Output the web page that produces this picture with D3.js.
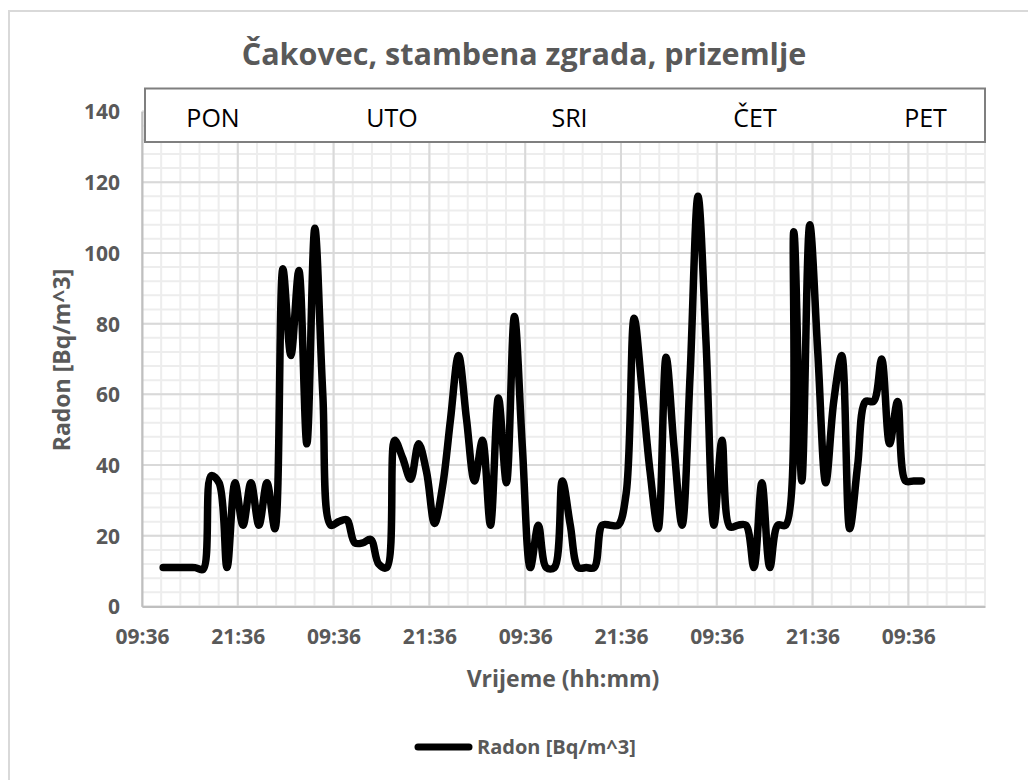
<!DOCTYPE html>
<meta charset="utf-8">
<script src="https://d3js.org/d3.v7.min.js"></script>
<style>
  body { margin: 0; background: #fff; }
  text { font-family: "Open Sans", sans-serif; }
</style>
<div id="chart"></div>
<script>
// hourly radon readings, first one at 12:15 (2.65 h after the 09:36 axis origin)
const firstHour = 2.65;
const radon = [
  11, 11, 11, 11, 11, 10.5, 37, 35, 11, 35, 23, 35, 23, 35, 22,
  95.5, 71, 95, 46, 107, 60, 23, 24, 24.5, 18, 18, 19, 12, 11,
  47, 42, 36, 46, 38, 23.5, 34, 53, 71, 53, 35.5, 47, 23, 59, 35, 82, 45,
  11, 23, 11, 11, 35.5, 23, 11, 11, 11, 23, 23, 23, 32,
  81.5, 61, 38, 22, 70.5, 45, 23, 65, 116, 75, 23, 47, 22.5, 23, 23,
  11, 35, 11, 23, 23, 106, 35.5, 108, 72, 35, 58, 71, 22, 40,
  58, 58, 70, 46, 58, 35.5, 35.5, 35.5
];
const xTickLabels = ["09:36", "21:36", "09:36", "21:36", "09:36", "21:36", "09:36", "21:36", "09:36"];
const yTicks = [0, 20, 40, 60, 80, 100, 120, 140];
const days = ["PON", "UTO", "SRI", "ČET", "PET"];

const data = radon.map((v, i) => ({ h: firstHour + i, v: v }));

const W = 1028, H = 780;
const plot = { left: 142, top: 111.5, right: 985, bottom: 606.5 };
const grey = "#595959";

const svg = d3.select("#chart").append("svg")
  .attr("width", W).attr("height", H);

// chart border (only left and top visible in the frame)
svg.append("path")
  .attr("d", `M9,${H} V11 H${W}`)
  .attr("fill", "none").attr("stroke", "#d9d9d9").attr("stroke-width", 2);

const x = d3.scaleLinear().domain([0, 105.6]).range([plot.left, plot.right]);
const y = d3.scaleLinear().domain([0, 140]).range([plot.bottom, plot.top]);

// minor grid
const g = svg.append("g");
g.selectAll(".mx").data(d3.range(45).map(i => i * 2.4)).join("line")
  .attr("x1", d => x(d)).attr("x2", d => x(d))
  .attr("y1", plot.top).attr("y2", plot.bottom)
  .attr("stroke", "#ededed").attr("stroke-width", 2);
g.selectAll(".my").data(d3.range(0, 141, 4)).join("line")
  .attr("y1", d => y(d)).attr("y2", d => y(d))
  .attr("x1", plot.left).attr("x2", plot.right)
  .attr("stroke", "#ededed").attr("stroke-width", 2);
// major grid
g.selectAll(".Mx").data(d3.range(0, 105, 12)).join("line")
  .attr("x1", d => x(d)).attr("x2", d => x(d))
  .attr("y1", plot.top).attr("y2", plot.bottom)
  .attr("stroke", "#d9d9d9").attr("stroke-width", 2);
g.selectAll(".My").data(yTicks).join("line")
  .attr("y1", d => y(d)).attr("y2", d => y(d))
  .attr("x1", plot.left).attr("x2", plot.right)
  .attr("stroke", "#d9d9d9").attr("stroke-width", 2);

// axes
const yAxis = svg.append("g")
  .attr("transform", `translate(${plot.left},0)`)
  .call(d3.axisLeft(y).tickValues(yTicks).tickSize(0).tickPadding(22));
const xAxis = svg.append("g")
  .attr("transform", `translate(0,${plot.bottom})`)
  .call(d3.axisBottom(x).tickValues(d3.range(0, 97, 12)).tickSize(0).tickPadding(23)
    .tickFormat((d, i) => xTickLabels[i]));
[yAxis, xAxis].forEach(a => {
  a.select(".domain").attr("stroke", "#bfbfbf").attr("stroke-width", 2);
  a.selectAll("text")
    .attr("fill", grey).attr("font-size", 21).attr("font-weight", 700)
    .style("font-family", '"Open Sans", sans-serif');
});
yAxis.selectAll("text").attr("dy", "0.35em");

// day label box
svg.append("rect")
  .attr("x", 145).attr("y", 88.5).attr("width", 840).attr("height", 53.5)
  .attr("fill", "#fff").attr("stroke", "#7f7f7f").attr("stroke-width", 2);
const dayX = [213, 392, 569.5, 755, 925.5];
svg.selectAll(".day").data(days).join("text")
  .attr("x", (d, i) => dayX[i]).attr("y", 126.5)
  .attr("text-anchor", "middle").attr("font-size", 25)
  .attr("fill", "#000").text(d => d);

// the series
const line = d3.line()
  .x(d => x(d.h)).y(d => y(d.v))
  .curve(d3.curveCatmullRom.alpha(0.5));
svg.append("path")
  .datum(data)
  .attr("fill", "none").attr("stroke", "#000")
  .attr("stroke-width", 7.5)
  .attr("stroke-linejoin", "round").attr("stroke-linecap", "round")
  .attr("d", line);

// titles
svg.append("text")
  .attr("x", 524).attr("y", 65).attr("text-anchor", "middle")
  .attr("font-size", 30.5).attr("font-weight", 700).attr("fill", grey)
  .text("Čakovec, stambena zgrada, prizemlje");
svg.append("text")
  .attr("x", 563).attr("y", 679).attr("dy", "0.35em").attr("text-anchor", "middle")
  .attr("font-size", 23).attr("font-weight", 700).attr("fill", grey)
  .text("Vrijeme (hh:mm)");
svg.append("text")
  .attr("transform", "translate(62,360) rotate(-90)")
  .attr("dy", "0.35em").attr("text-anchor", "middle")
  .attr("font-size", 23).attr("font-weight", 700).attr("fill", grey)
  .text("Radon [Bq/m^3]");

// legend
svg.append("line")
  .attr("x1", 418).attr("x2", 469).attr("y1", 747).attr("y2", 747)
  .attr("stroke", "#000").attr("stroke-width", 7).attr("stroke-linecap", "round");
svg.append("text")
  .attr("x", 477).attr("y", 747).attr("dy", "0.35em")
  .attr("font-size", 20).attr("font-weight", 700).attr("fill", grey)
  .text("Radon [Bq/m^3]");
</script>
